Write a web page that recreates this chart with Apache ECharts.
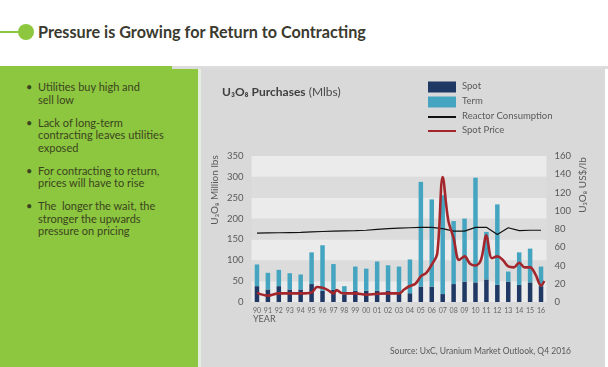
<!DOCTYPE html>
<html><head><meta charset="utf-8">
<script src="https://cdn.jsdelivr.net/npm/echarts@6/dist/echarts.min.js"></script>
<style>
html,body{margin:0;padding:0;width:608px;height:367px;overflow:hidden;background:#fff;font-family:Lato,"Open Sans",sans-serif;}
.abs{position:absolute;}
#chart{position:absolute;left:0;top:0;width:608px;height:367px;}
</style></head>
<body>
<div class="abs" style="left:0;top:31px;width:22px;height:2px;background:#8dc63f"></div>
<div class="abs" style="left:18px;top:24px;width:16px;height:16px;border-radius:50%;background:#8dc63f"></div>
<div class="abs" style="left:38px;top:22px;font-weight:bold;font-size:16.2px;color:#3a3a2e;white-space:nowrap;">Pressure is Growing for Return to Contracting</div>
<div class="abs" style="left:0;top:66px;width:172px;height:3px;background:#8dc63f"></div>
<div class="abs" style="left:172px;top:66px;width:436px;height:3px;background:#dcdcdc"></div>
<div class="abs" style="left:0;top:69px;width:198px;height:298px;background:#8dc63f"></div>
<div class="abs" style="left:198px;top:69px;width:3px;height:298px;background:#e4eedc"></div>
<div class="abs" style="left:201px;top:69px;width:404px;height:298px;background:#d9d9d9"></div>
<div class="abs" id="bul" style="left:26px;top:81px;width:170px;font-size:11px;line-height:12.5px;color:#3a4520;"></div>
<div id="chart"></div>
<script>
// ---- data ----
const years = ['90','91','92','93','94','95','96','97','98','99','00','01','02','03','04','05','06','07','08','09','10','11','12','13','14','15','16'];
const spotVolume = [38,30,38,30,30,43,27,29,17,27,27,27,27,21,21,37,37,19,43,49,47,54,41,49,41,47,38];
const termVolume = [52,40,39,39,36,76,109,62,21,58,53,70,61,64,81,251,209,237,151,151,251,114,193,24,78,81,47];
const reactorConsumption = [165,165.5,166,166.5,167,168,169,170,170.5,171,172,174,176,177,178,179,179,176,170,170,179,179,162,178,171,172,172];
const priceTime = [1990,1991,1992,1993,1994,1995,1995.5,1996,1996.5,1997,1997.3,1997.7,1998,1999,2000,2001,2002,2003,2003.5,2004,2004.5,2005,2005.5,2006,2006.5,2007,2007.5,2008,2008.5,2009,2009.5,2010,2010.5,2011,2011.5,2012,2012.5,2013,2013.5,2014,2014.5,2015,2015.5,2016,2016.3];
const spotPrice = [10,7,9.5,9.5,9.5,10.5,16.5,15.5,13,9.5,13,10,9.5,9.5,8,9,9.5,9.5,14,17.5,20,28,32,41,53,137,90,70,46,50,42,40,46,73,48,50,46,39,38,43,38,38,30,18,23];
const leftTicks = {min:0, max:350, interval:50};
const rightTicks = {min:0, max:160, interval:20};
const bullets = [
  ['Utilities buy high and','sell low'],
  ['Lack of long-term','contracting leaves utilities','exposed'],
  ['For contracting to return,','prices will have to rise'],
  ['The  longer the wait, the','stronger the upwards','pressure on pricing']
];
const legendItems = ['Spot','Term','Reactor Consumption','Spot Price'];

// bullets
const bul = document.getElementById('bul');
bullets.forEach((b,i)=>{
  const d=document.createElement('div');
  d.style.cssText='position:relative;padding-left:12px;margin-bottom:'+(i<3?'10.5px':'0')+';white-space:pre;';
  d.innerHTML='<span style="position:absolute;left:0;top:0">•</span>'+b.join('\n');
  bul.appendChild(d);
});

const priceData = priceTime.map((t,i)=>[t,spotPrice[i]]);
const chart = echarts.init(document.getElementById('chart'),null,{renderer:'canvas'});
const FONT = 'Lato, "Open Sans", sans-serif';
const grid = {left:251.5, top:156, width:295, height:146};
const lc = ['#1f3864','#45a5c0','#111111','#a3262c'];
const legendY = [87,102,117,131];
const gfx = [];
legendItems.forEach((name,i)=>{
  if(i<2) gfx.push({type:'rect',left:428,top:legendY[i]-5.5,shape:{width:28,height:11},style:{fill:lc[i]}});
  else gfx.push({type:'rect',left:428,top:legendY[i]-1,shape:{width:28,height:2},style:{fill:lc[i]}});
  gfx.push({type:'text',left:462,top:legendY[i]-6,style:{text:name,fill:'#5a5a5a',font:'9.5px '+FONT}});
});
gfx.push({type:'text',x:215,y:190,rotation:Math.PI/2,style:{text:'U₃O₈ Million lbs',fill:'#595959',font:'10px '+FONT,align:'center',verticalAlign:'middle'}});
gfx.push({type:'text',x:583,y:185,rotation:Math.PI/2,style:{text:'U₃O₈ US$/lb',fill:'#595959',font:'10px '+FONT,align:'center',verticalAlign:'middle'}});
gfx.push({type:'text',left:253,top:315,style:{text:'YEAR',fill:'#595959',font:'9px '+FONT}});
gfx.push({type:'text',left:390,top:347,style:{text:'Source: UxC, Uranium Market Outlook, Q4 2016',fill:'#595959',font:'8.5px '+FONT}});

chart.setOption({
  animation:false,
  backgroundColor:'transparent',
  title:{left:217,top:81,text:'{b|U₃O₈ Purchases} {n|(Mlbs)}',textStyle:{fontSize:12,fontWeight:'normal',color:'#4a4a4a',fontFamily:FONT,rich:{b:{fontSize:12,fontWeight:'bold',color:'#404040',fontFamily:FONT},n:{fontSize:12,fontWeight:'normal',color:'#4a4a4a',fontFamily:FONT}}}},
  grid:grid,
  graphic:gfx,
  xAxis:[
    {type:'category',data:years,axisLine:{show:false},axisTick:{show:false},
     axisLabel:{fontSize:7,color:'#666',margin:5,interval:0,fontFamily:FONT}},
    {type:'value',min:1989.5,max:2016.5,show:false}
  ],
  yAxis:[
    {type:'value',min:leftTicks.min,max:leftTicks.max,interval:leftTicks.interval,
     axisLine:{show:false},axisTick:{show:false},splitLine:{show:false},
     splitArea:{show:true,areaStyle:{color:['#ebebeb','#dcdcdc']}},
     axisLabel:{fontSize:9.5,color:'#595959',margin:8,fontFamily:FONT}},
    {type:'value',min:rightTicks.min,max:rightTicks.max,interval:rightTicks.interval,position:'right',
     axisLine:{show:false},axisTick:{show:false},splitLine:{show:false},
     axisLabel:{fontSize:9.5,color:'#595959',margin:8,fontFamily:FONT}}
  ],
  series:[
    {name:'Spot',type:'bar',stack:'v',data:spotVolume,barWidth:4.5,itemStyle:{color:lc[0]}},
    {name:'Term',type:'bar',stack:'v',data:termVolume,barWidth:4.5,itemStyle:{color:lc[1]}},
    {name:'Reactor Consumption',type:'line',data:reactorConsumption,symbol:'none',lineStyle:{color:lc[2],width:1.2}},
    {name:'Spot Price',type:'line',xAxisIndex:1,yAxisIndex:1,data:priceData,symbol:'none',smooth:0.35,lineStyle:{color:lc[3],width:2.6},z:5}
  ]
});
</script>
</body></html>
